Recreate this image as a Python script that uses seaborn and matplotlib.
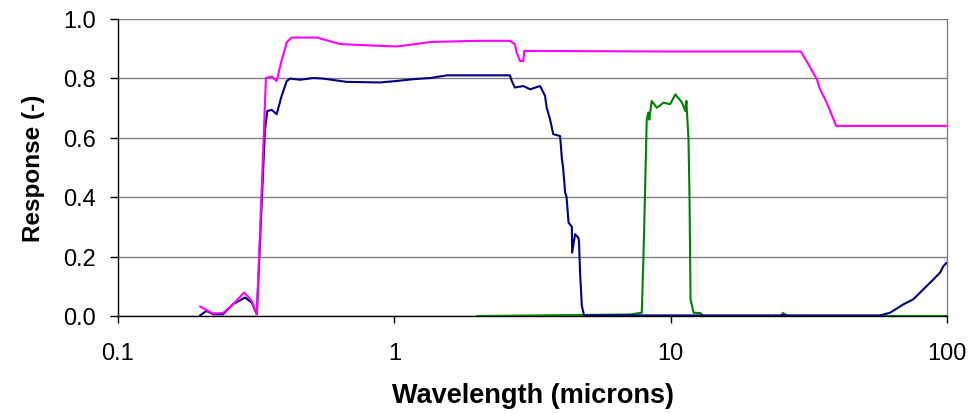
import numpy as np
import pandas as pd
import matplotlib
matplotlib.use("Agg")
import matplotlib.pyplot as plt
import seaborn as sns
from matplotlib.ticker import FixedLocator, FixedFormatter, NullLocator

# ---- data (wavelength in microns, response) ----
mag_wl = [0.198, 0.221, 0.240, 0.261, 0.286, 0.305, 0.318, 0.343, 0.360, 0.375, 0.391,
          0.408, 0.425, 0.524, 0.553, 0.636, 0.888, 1.02, 1.17, 1.35, 1.99, 2.62, 2.73,
          2.77, 2.85, 2.93, 2.95, 10.0, 29.6, 31.5, 33.8, 34.7, 36.7, 39.7, 100.0]
mag_val = [0.032, 0.008, 0.010, 0.040, 0.079, 0.050, 0.006, 0.800, 0.805, 0.790, 0.860,
           0.920, 0.936, 0.936, 0.930, 0.914, 0.908, 0.906, 0.913, 0.921, 0.925, 0.925, 0.914,
           0.886, 0.857, 0.857, 0.891, 0.889, 0.889, 0.846, 0.796, 0.762, 0.717, 0.639, 0.639]

navy_wl = [0.198, 0.209, 0.221, 0.240, 0.261, 0.288, 0.305, 0.318, 0.340, 0.347, 0.360,
           0.375, 0.391, 0.408, 0.420, 0.456, 0.509, 0.553, 0.672, 0.888, 1.02, 1.17,
           1.35, 1.55, 2.62, 2.66, 2.73, 2.93, 3.10, 3.37, 3.51, 3.56, 3.66, 3.76, 3.98,
           4.00, 4.04, 4.08, 4.15, 4.20, 4.27, 4.39, 4.40, 4.51, 4.64, 4.66, 4.70, 4.77,
           4.86, 57.3, 62.2, 69.5, 75.5, 82.2, 89.3, 94.4, 97.1, 100.0]
navy_val = [0.002, 0.017, 0.006, 0.006, 0.040, 0.062, 0.045, 0.006, 0.622, 0.689, 0.693,
            0.678, 0.740, 0.790, 0.798, 0.794, 0.800, 0.798, 0.787, 0.785, 0.790, 0.796,
            0.800, 0.809, 0.809, 0.790, 0.768, 0.773, 0.762, 0.773, 0.740, 0.700, 0.661,
            0.611, 0.605, 0.580, 0.527, 0.500, 0.415, 0.400, 0.314, 0.300, 0.213, 0.275,
            0.262, 0.247, 0.146, 0.034, 0.002, 0.002, 0.011, 0.039, 0.056, 0.090, 0.123,
            0.146, 0.168, 0.180]

green_wl = [1.99, 7.13, 7.86, 7.96, 8.07, 8.19, 8.30, 8.37, 8.54, 8.91, 9.42, 9.96,
            10.4, 11.0, 11.3, 11.4, 11.6, 11.7, 11.8, 12.1, 12.8, 13.1, 25.0, 25.5, 26.5,
            100.0]
green_val = [0.0, 0.005, 0.011, 0.180, 0.400, 0.660, 0.684, 0.660, 0.723, 0.700, 0.717,
             0.712, 0.745, 0.717, 0.689, 0.723, 0.594, 0.404, 0.056, 0.011, 0.010, 0.0,
             0.0, 0.010, 0.0, 0.0]

x_ticks = [0.1, 1, 10, 100]
x_tick_labels = ["0.1", "1", "10", "100"]
y_ticks = [0.0, 0.2, 0.4, 0.6, 0.8, 1.0]

frames = []
for name, wl, val in [("green", green_wl, green_val), ("navy", navy_wl, navy_val),
                      ("magenta", mag_wl, mag_val)]:
    frames.append(pd.DataFrame({"wavelength": wl, "response": val, "series": name}))
df = pd.concat(frames, ignore_index=True)

sns.set_style("white")
plt.rcParams["font.family"] = ["Liberation Sans", "DejaVu Sans"]
plt.rcParams["text.color"] = "black"
plt.rcParams["axes.labelcolor"] = "black"
plt.rcParams["xtick.color"] = "black"
plt.rcParams["ytick.color"] = "black"

fig = plt.figure(figsize=(9.77, 4.14), dpi=100)
ax = fig.add_axes([118 / 977, 1 - 317 / 414, (947 - 118) / 977, (317 - 19.5) / 414])

palette = {"green": "#008000", "navy": "#000080", "magenta": "#FF00FF"}
sns.lineplot(data=df, x="wavelength", y="response", hue="series", palette=palette,
             estimator=None, sort=False, legend=False, linewidth=1.5, ax=ax, zorder=3)

ax.set_xscale("log")
ax.set_xlim(0.1, 100)
ax.set_ylim(0, 1.0)
ax.xaxis.set_major_locator(FixedLocator(x_ticks))
ax.xaxis.set_major_formatter(FixedFormatter(x_tick_labels))
ax.xaxis.set_minor_locator(NullLocator())
ax.set_yticks(y_ticks)
ax.set_yticklabels([f"{v:.1f}" for v in y_ticks])

ax.yaxis.grid(True, color="#808080", linewidth=1.0)
ax.xaxis.grid(False)
ax.set_axisbelow(True)

for s in ["left", "bottom"]:
    ax.spines[s].set_color("black")
    ax.spines[s].set_linewidth(1.0)
ax.spines["top"].set_visible(False)
ax.spines["right"].set_color("#808080")
ax.spines["right"].set_linewidth(1.0)

ax.tick_params(axis="y", direction="out", length=6, width=1, color="black",
               labelcolor="black", labelsize=17, pad=10, left=True)
ax.tick_params(axis="x", direction="out", length=5, width=1, color="black",
               labelcolor="black", labelsize=17, pad=14, bottom=True)

ax.set_xlabel("Wavelength (microns)", fontsize=19.5, fontweight="bold", labelpad=13,
              color="black")
ax.set_ylabel("Response (-)", fontsize=17.5, fontweight="bold", labelpad=13,
              color="black")

fig.savefig("out.png", dpi=100)
